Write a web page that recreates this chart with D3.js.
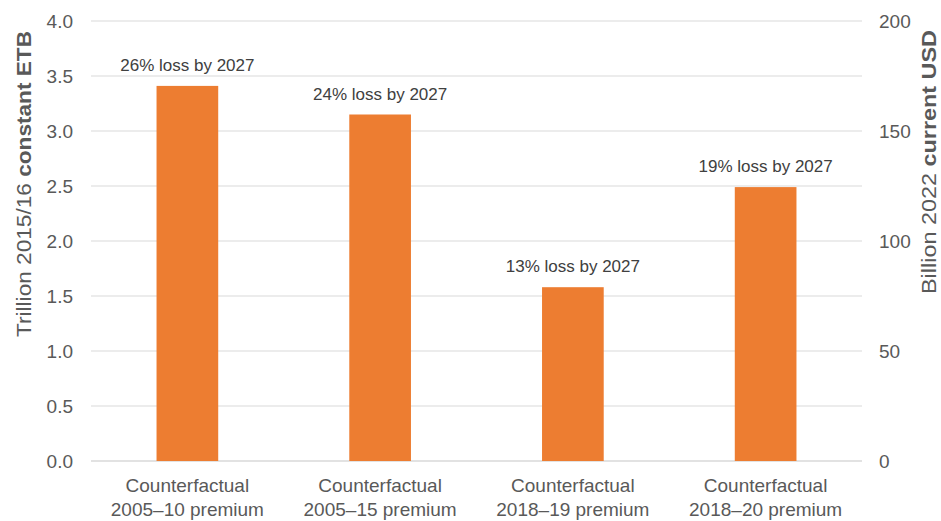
<!DOCTYPE html>
<html>
<head>
<meta charset="utf-8">
<script src="https://cdn.jsdelivr.net/npm/d3@7"></script>
<style>
  body { margin: 0; background: #fff; }
  svg { display: block; font-family: "Liberation Sans", Arial, sans-serif; }
</style>
</head>
<body>
<div id="chart"></div>
<script>
// data
const categories = [
  ["Counterfactual", "2005\u201310 premium"],
  ["Counterfactual", "2005\u201315 premium"],
  ["Counterfactual", "2018\u201319 premium"],
  ["Counterfactual", "2018\u201320 premium"]
];
const values = [3.41, 3.15, 1.58, 2.49];           // trillion 2015/16 constant ETB
const lossLabels = ["26% loss by 2027", "24% loss by 2027", "13% loss by 2027", "19% loss by 2027"];
const leftTicks = [0, 0.5, 1, 1.5, 2, 2.5, 3, 3.5, 4];
const rightTicks = [0, 50, 100, 150, 200];

const width = 941, height = 521;
const margin = { top: 21, right: 79, bottom: 60, left: 91 };
const textColor = "#595959";
const barColor = "#ED7D31";
const gridColor = "#d9d9d9";

const svg = d3.select("#chart").append("svg")
  .attr("width", width)
  .attr("height", height);

const x = d3.scaleBand()
  .domain(d3.range(categories.length))
  .range([margin.left, width - margin.right])
  .paddingInner(0.68)
  .paddingOuter(0.34);

const y = d3.scaleLinear().domain([0, 4]).range([height - margin.bottom, margin.top]);
const y2 = d3.scaleLinear().domain([0, 200]).range([height - margin.bottom, margin.top]);

// gridlines
svg.append("g")
  .selectAll("line")
  .data(leftTicks)
  .join("line")
  .attr("x1", margin.left)
  .attr("x2", width - margin.right)
  .attr("y1", d => y(d))
  .attr("y2", d => y(d))
  .attr("stroke", gridColor)
  .attr("stroke-width", d => d === 0 ? 1.5 : 1.2);

// left axis
const yAxis = svg.append("g")
  .attr("transform", `translate(${margin.left - 18},0)`)
  .call(d3.axisLeft(y).tickValues(leftTicks).tickFormat(d3.format(".1f")).tickSize(0).tickPadding(0));
yAxis.select(".domain").remove();
yAxis.selectAll("text")
  .attr("fill", textColor)
  .style("font-size", "19px")
  .attr("dy", "0.35em");

// right axis
const y2Axis = svg.append("g")
  .attr("transform", `translate(${width - margin.right + 17},0)`)
  .call(d3.axisRight(y2).tickValues(rightTicks).tickFormat(d3.format("d")).tickSize(0).tickPadding(0));
y2Axis.select(".domain").remove();
y2Axis.selectAll("text")
  .attr("fill", textColor)
  .style("font-size", "19px")
  .attr("dy", "0.35em");

// bars
svg.append("g")
  .selectAll("rect")
  .data(values)
  .join("rect")
  .attr("x", (d, i) => x(i))
  .attr("width", x.bandwidth())
  .attr("y", d => y(d))
  .attr("height", d => y(0) - y(d))
  .attr("fill", barColor);

// loss labels
svg.append("g")
  .selectAll("text")
  .data(values)
  .join("text")
  .attr("x", (d, i) => x(i) + x.bandwidth() / 2)
  .attr("y", d => y(d) - 15)
  .attr("text-anchor", "middle")
  .attr("fill", "#404040")
  .style("font-size", "17px")
  .text((d, i) => lossLabels[i]);

// category labels
const cat = svg.append("g")
  .selectAll("text")
  .data(categories)
  .join("text")
  .attr("text-anchor", "middle")
  .attr("fill", textColor)
  .style("font-size", "19px")
  .attr("x", (d, i) => x(i) + x.bandwidth() / 2);
cat.append("tspan").attr("x", (d, i) => x(i) + x.bandwidth() / 2).attr("y", 492).text(d => d[0]);
cat.append("tspan").attr("x", (d, i) => x(i) + x.bandwidth() / 2).attr("y", 516).text(d => d[1]);

// axis titles (slightly stretched, like the original export)
const leftTitle = svg.append("text")
  .attr("transform", "translate(31,184) rotate(-90)")
  .attr("text-anchor", "middle")
  .attr("fill", textColor)
  .attr("textLength", 306)
  .attr("lengthAdjust", "spacingAndGlyphs")
  .style("font-size", "21px");
leftTitle.append("tspan").text("Trillion 2015/16 ");
leftTitle.append("tspan").attr("font-weight", "bold").text("constant ETB");

const rightTitle = svg.append("text")
  .attr("transform", "translate(936,162) rotate(-90)")
  .attr("text-anchor", "middle")
  .attr("fill", textColor)
  .attr("textLength", 264)
  .attr("lengthAdjust", "spacingAndGlyphs")
  .style("font-size", "21px");
rightTitle.append("tspan").text("Billion 2022 ");
rightTitle.append("tspan").attr("font-weight", "bold").text("current USD");
</script>
</body>
</html>
